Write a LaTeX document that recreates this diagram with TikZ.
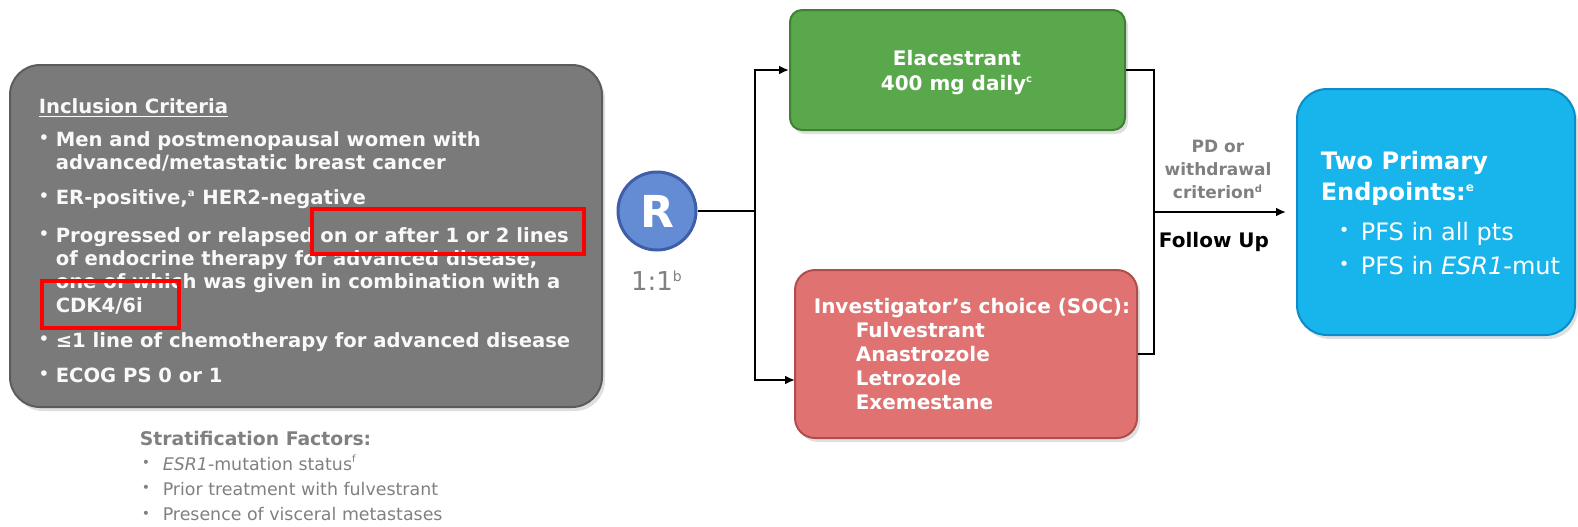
\documentclass[tikz,border=0pt]{standalone}
\usepackage{fontspec}
\setmainfont{DejaVu Sans}
\usetikzlibrary{arrows.meta,shadows}
\definecolor{critgray}{RGB}{122,122,122}
\definecolor{critedge}{RGB}{92,92,92}
\definecolor{elacgreen}{RGB}{90,168,76}
\definecolor{elacedge}{RGB}{62,128,52}
\definecolor{socred}{RGB}{224,114,114}
\definecolor{socedge}{RGB}{176,78,78}
\definecolor{endblue}{RGB}{24,180,236}
\definecolor{endedge}{RGB}{12,140,200}
\definecolor{randblue}{RGB}{100,140,212}
\definecolor{randedge}{RGB}{62,94,168}
\definecolor{labgray}{RGB}{128,128,128}
\newcommand{\bul}{\makebox[8.5pt][l]{\raisebox{1.2pt}{\fontsize{8}{8}\selectfont•}}}
\newcommand{\sbul}{\makebox[10.5pt][l]{\raisebox{1.2pt}{\fontsize{7}{7}\selectfont•}}}
\newcommand{\ebul}{\makebox[11pt][l]{\raisebox{1.6pt}{\fontsize{9}{9}\selectfont•}}}
\begin{document}
\begin{tikzpicture}[x=0.5pt,y=-0.5pt,every path/.style={thick},
  armbox/.style={inner sep=0pt,line width=1pt,drop shadow={opacity=0.25,shadow xshift=1.5pt,shadow yshift=-2pt}},
  crit/.style={anchor=base west,inner sep=0pt,text=white!95!gray,font=\bfseries\fontsize{9.8}{11.7}\selectfont},
  armtext/.style={anchor=base west,inner sep=0pt,text=white,font=\bfseries\fontsize{10}{12}\selectfont},
  link/.style={draw=black,line width=1pt},
  hit/.style={draw=red,line width=2pt}]
\useasboundingbox (0,0) rectangle (1578,526);
% boxes
\node[armbox,draw=critedge,fill=critgray,rounded corners=15pt,minimum width=296pt,minimum height=171pt] (incl) at (306,236) {};
\node[armbox,draw=elacedge,fill=elacgreen,rounded corners=6pt,minimum width=167.5pt,minimum height=60pt] (elac) at (957.5,70) {};
\node[armbox,draw=socedge,fill=socred,rounded corners=10pt,minimum width=171pt,minimum height=84pt] (soc) at (966,354) {};
\node[armbox,draw=endedge,fill=endblue,rounded corners=15pt,minimum width=139pt,minimum height=123pt] (endp) at (1436,212) {};
\node[circle,draw=randedge,line width=1.5pt,fill=randblue,minimum size=39pt,inner sep=0pt,text=white,font=\bfseries\fontsize{22}{22}\selectfont] (rand) at (657,211) {R};
% inclusion criteria
\node[crit] (ttl) at (38,113) {\underline{Inclusion Criteria}};
\node[crit] (c1) at (38,146) {\bul\begin{tabular}[t]{@{}l@{}}Men and postmenopausal women with\\advanced/metastatic breast cancer\end{tabular}};
\node[crit] (c2) at (38,204) {\bul ER-positive,\textsuperscript{\fontsize{5}{5}\selectfont a} HER2-negative};
\node[crit] (c3) at (38,242) {\bul\begin{tabular}[t]{@{}l@{}}Progressed or relapsed on or after 1 or 2 lines\\of endocrine therapy for advanced disease,\\one of which was given in combination with a\\CDK4/6i\end{tabular}};
\node[crit] (c4) at (38,347) {\bul ≤1 line of chemotherapy for advanced disease};
\node[crit] (c5) at (38,382) {\bul ECOG PS 0 or 1};
\draw[hit] (312,209) rectangle (584,254);
\draw[hit] (42,281) rectangle (179,328);
% stratification
\node[anchor=base west,inner sep=0pt,text=labgray,font=\bfseries\fontsize{9.4}{11}\selectfont] (strat) at (139,445) {Stratification Factors:};
\node[anchor=base west,inner sep=0pt,text=labgray,font=\fontsize{8.7}{12.6}\selectfont] (sf) at (141,470) {\begin{tabular}[t]{@{}l@{}}\sbul\textit{ESR1}-mutation status\textsuperscript{\fontsize{5}{5}\selectfont f}\\\sbul Prior treatment with fulvestrant\\\sbul Presence of visceral metastases\end{tabular}};
% arms
\node[anchor=base,inner sep=0pt,text=labgray,font=\fontsize{13}{13}\selectfont] (ratio) at (657,290) {1:1\textsuperscript{\fontsize{7}{7}\selectfont b}};
\node[armtext,anchor=base] (elactxt) at (957,65) {\begin{tabular}[t]{@{}c@{}}Elacestrant\\[0.5pt]400 mg daily\textsuperscript{\fontsize{5}{5}\selectfont c}\end{tabular}};
\node[armtext] (soctxt) at (813,313) {\begin{tabular}[t]{@{}l@{}}Investigator’s choice (SOC):\\\hspace*{21pt}Fulvestrant\\\hspace*{21pt}Anastrozole\\\hspace*{21pt}Letrozole\\\hspace*{21pt}Exemestane\end{tabular}};
% endpoints
\node[anchor=base west,inner sep=0pt,text=white,font=\bfseries\fontsize{12}{15.5}\selectfont] (endttl) at (1320,169) {\begin{tabular}[t]{@{}l@{}}Two Primary\\Endpoints:\textsuperscript{\fontsize{6}{6}\selectfont e}\end{tabular}};
\node[anchor=base west,inner sep=0pt,text=white,font=\fontsize{12}{17}\selectfont] (endlst) at (1338,240) {\begin{tabular}[t]{@{}l@{}}\ebul PFS in all pts\\\ebul PFS in \textit{ESR1}-mut\end{tabular}};
% follow up labels
\node[anchor=base,inner sep=0pt,text=labgray,font=\bfseries\fontsize{8.5}{11.5}\selectfont] (pd) at (1218,152) {\begin{tabular}[t]{@{}c@{}}PD or\\withdrawal\\criterion\textsuperscript{\fontsize{5}{5}\selectfont d}\end{tabular}};
\node[anchor=base,inner sep=0pt,font=\bfseries\fontsize{10}{12}\selectfont] (fup) at (1214,247) {Follow Up};
% connectors
\coordinate (split) at (755,211);
\coordinate (socin) at (795,380);
\coordinate (joint) at (1154,212);
\draw[link] (rand) -- (split);
\draw[link,-{Latex[length=5pt,width=4.5pt]}] (split) |- (elac.west);
\draw[link,-{Latex[length=5pt,width=4.5pt]}] (split) |- (socin);
\draw[link] (elac.east) -| (joint);
\draw[link] (soc.east) -| (joint);
\draw[link,-{Latex[length=5pt,width=4.5pt]},shorten >=5pt] (joint) -- (endp.west);
\end{tikzpicture}
\end{document}
